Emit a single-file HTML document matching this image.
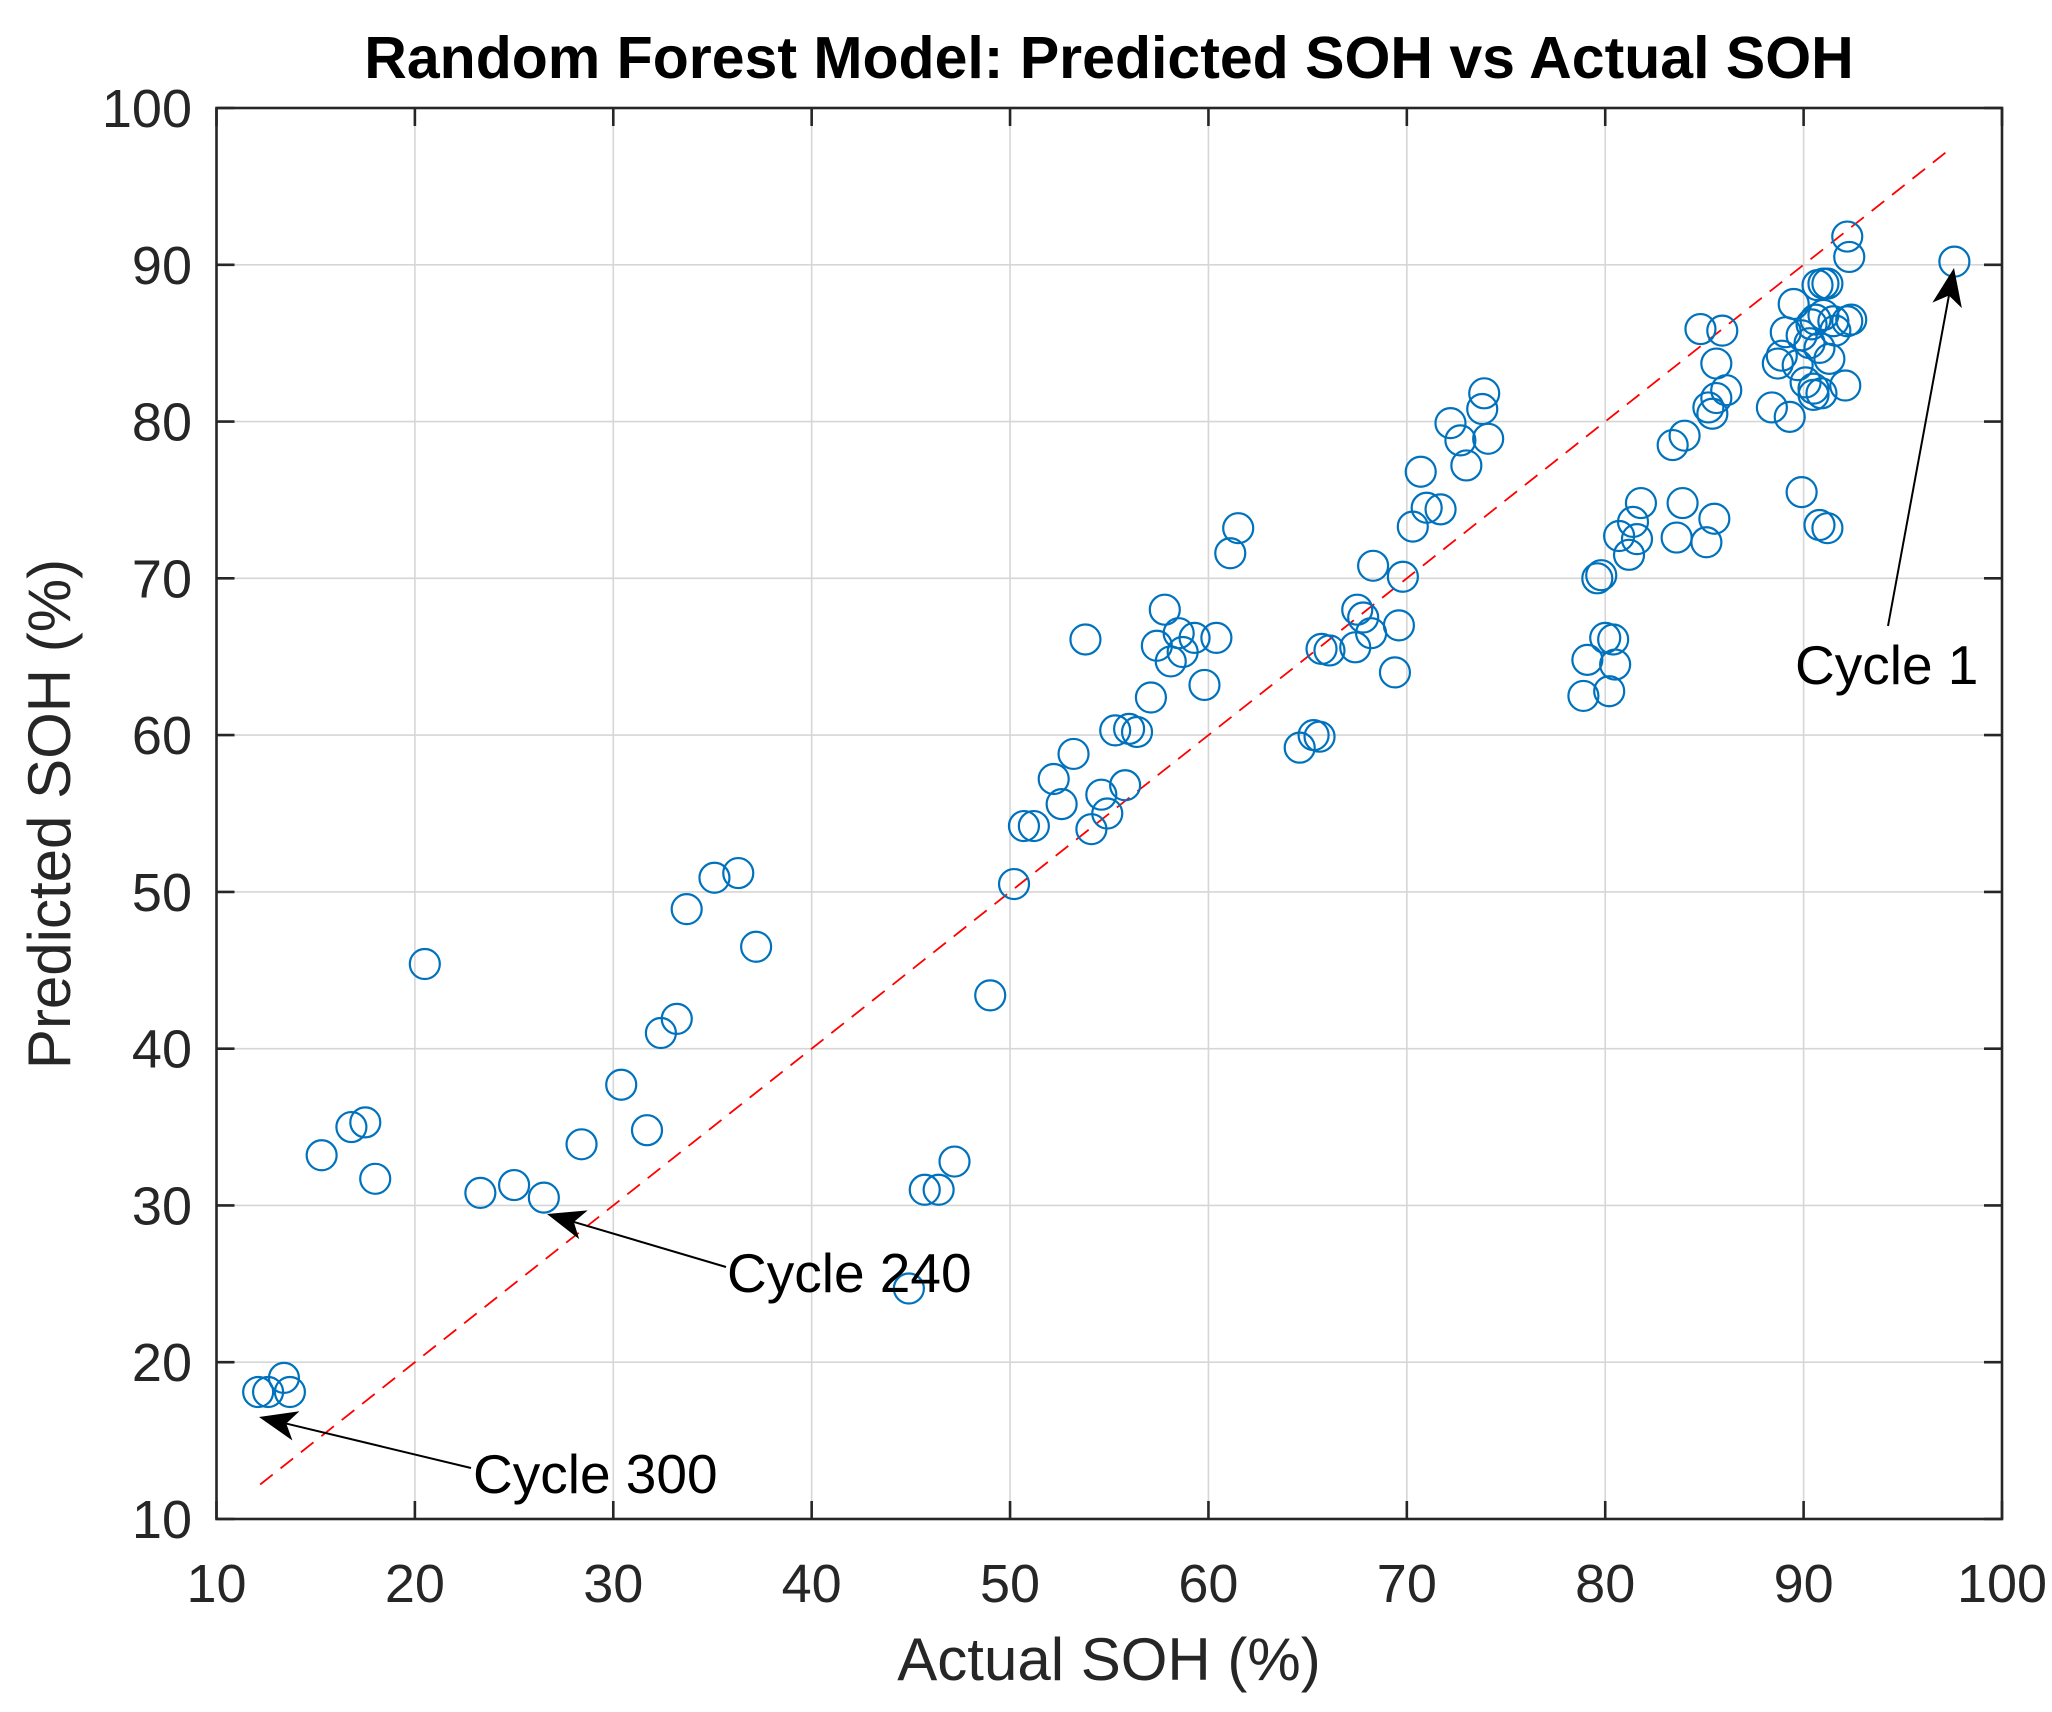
<!DOCTYPE html>
<html><head><meta charset="utf-8"><style>
body{margin:0;background:#fff}
svg{display:block;font-family:"Liberation Sans",Arial,sans-serif}
</style></head><body>
<svg id="chart" width="2052" height="1712" viewBox="0 0 2052 1712" xmlns="http://www.w3.org/2000/svg">
<rect width="2052" height="1712" fill="#fff"/>
<g id="grid"></g>
<g id="ref"></g>
<g id="pts"></g>
<rect x="216.5" y="108" width="1785.5" height="1411" fill="none" stroke="#262626" stroke-width="2.6"/>
<g id="ticks"></g>
<text x="1109" y="78" text-anchor="middle" font-size="59" font-weight="bold" fill="#000">Random Forest Model: Predicted SOH vs Actual SOH</text>
<text x="1109" y="1680" text-anchor="middle" font-size="60" fill="#262626">Actual SOH (%)</text>
<text transform="translate(70,814) rotate(-90)" text-anchor="middle" font-size="60" fill="#262626">Predicted SOH (%)</text>
<g id="ann"></g>
</svg>
<script>
const xTicks=[10,20,30,40,50,60,70,80,90,100];
const yTicks=[10,20,30,40,50,60,70,80,90,100];
const actual=[12.1,12.6,13.4,13.7,15.3,16.8,17.5,18.0,20.5,23.3,25.0,26.5,28.4,30.4,31.7,32.4,33.2,33.7,35.1,36.3,37.2,44.9,45.7,46.4,47.2,49.0,50.2,50.7,51.2,52.2,52.6,53.2,53.8,54.1,54.6,54.9,55.3,55.8,56.0,56.4,57.1,57.4,57.8,58.1,58.5,58.7,59.3,59.8,60.4,61.1,61.5,64.6,65.3,65.6,65.7,66.1,67.4,67.5,67.8,68.3,68.2,69.4,69.6,69.8,70.3,70.7,71.0,71.7,72.2,72.7,73.0,73.8,73.9,74.1,78.9,79.1,79.6,79.8,80.0,80.2,80.4,80.5,80.7,81.2,81.4,81.6,81.8,83.4,83.6,84.0,83.9,84.8,85.1,85.2,85.4,85.5,85.6,85.6,85.9,86.1,88.4,88.7,88.9,89.1,89.3,89.5,89.7,89.9,89.9,90.1,90.3,90.4,90.5,90.6,90.5,90.7,90.8,90.8,90.9,91.0,91.0,91.2,91.2,91.3,91.5,91.6,92.2,92.1,92.2,92.3,92.4,97.6];
const predicted=[18.1,18.1,19.0,18.1,33.2,35.0,35.3,31.7,45.4,30.8,31.3,30.5,33.9,37.7,34.8,41.0,41.9,48.9,50.9,51.2,46.5,24.7,31.0,31.0,32.8,43.4,50.5,54.2,54.2,57.2,55.6,58.8,66.1,54.0,56.2,55.0,60.3,56.8,60.4,60.2,62.4,65.7,68.0,64.7,66.5,65.3,66.2,63.2,66.2,71.6,73.2,59.2,60.0,59.9,65.5,65.4,65.6,68.0,67.5,70.8,66.5,64.0,67.0,70.1,73.3,76.8,74.5,74.4,79.9,78.8,77.2,80.8,81.8,78.9,62.5,64.8,70.0,70.2,66.2,62.8,66.1,64.5,72.7,71.5,73.6,72.5,74.8,78.5,72.6,79.1,74.8,85.9,72.3,80.9,80.5,73.8,83.7,81.5,85.8,82.0,80.9,83.7,84.2,85.7,80.3,87.5,83.6,75.5,85.5,82.5,85.0,86.2,82.1,86.5,81.7,88.7,73.4,84.7,81.8,86.8,88.8,88.8,73.2,84.0,86.4,85.8,91.8,82.3,86.4,90.5,86.5,90.2];
const refLine=[12.2,97.3];
const NS="http://www.w3.org/2000/svg";
const X0=216.5,X1=2002,Y0=1519,Y1=108;
function sx(v){return X0+(v-10)/90*(X1-X0);}
function sy(v){return Y0-(v-10)/90*(Y0-Y1);}
function mk(tag,attrs,parent){const e=document.createElementNS(NS,tag);for(const k in attrs)e.setAttribute(k,attrs[k]);parent.appendChild(e);return e;}
const grid=document.getElementById('grid'),ticks=document.getElementById('ticks');
xTicks.forEach(t=>{
  const x=sx(t);
  if(t>10&&t<100){const g=mk('line',{x1:x,x2:x,y1:Y1,y2:Y0,stroke:'#d6d6d6','stroke-width':1.6},grid);
  
  }
  mk('line',{x1:x,x2:x,y1:Y0,y2:Y0-18,stroke:'#262626','stroke-width':2.6},ticks);
  mk('line',{x1:x,x2:x,y1:Y1,y2:Y1+18,stroke:'#262626','stroke-width':2.6},ticks);
  const tx=mk('text',{x:x,y:1602,'text-anchor':'middle','font-size':54,fill:'#262626'},ticks);
  tx.textContent=t;
  
  
});
yTicks.forEach(t=>{
  const y=sy(t);
  if(t>10&&t<100){const g=mk('line',{x1:X0,x2:X1,y1:y,y2:y,stroke:'#d6d6d6','stroke-width':1.6},grid);
  
  }
  mk('line',{x1:X0,x2:X0+18,y1:y,y2:y,stroke:'#262626','stroke-width':2.6},ticks);
  mk('line',{x1:X1,x2:X1-18,y1:y,y2:y,stroke:'#262626','stroke-width':2.6},ticks);
  const tx=mk('text',{x:192,y:y+19,'text-anchor':'end','font-size':54,fill:'#262626'},ticks);
  tx.textContent=t;
  
  
});
const rl=mk('line',{x1:sx(refLine[0]),y1:sy(refLine[0]),x2:sx(refLine[1]),y2:sy(refLine[1]),stroke:'#ff0000','stroke-width':1.8,'stroke-dasharray':'16,10'},document.getElementById('ref'));


const pts=document.getElementById('pts');
actual.forEach((a,i)=>{
  const c=mk('circle',{cx:sx(a),cy:sy(predicted[i]),r:15,fill:'none',stroke:'#0072bd','stroke-width':2.2},pts);
  
  
});
const ann=document.getElementById('ann');
function arrow(x1,y1,x2,y2,label,tx,ty,name){
  const g=mk('g',{},ann);
  
  
  const dx=x2-x1,dy=y2-y1,L=Math.hypot(dx,dy),ux=dx/L,uy=dy/L,h=38,w=15;
  const bx=x2-ux*h,by=y2-uy*h;
  mk('line',{x1:x1,y1:y1,x2:bx+ux*10,y2:by+uy*10,stroke:'#000','stroke-width':2},g);
  mk('polygon',{points:`${x2},${y2} ${bx-uy*w},${by+ux*w} ${bx+ux*10},${by+uy*10} ${bx+uy*w},${by-ux*w}`,fill:'#000'},g);
  const t=mk('text',{x:tx,y:ty,'font-size':55,fill:'#000'},g);t.textContent=label;
}
arrow(1888,626,1954,268,'Cycle 1',1795,684,'annotation-cycle-1');
arrow(726,1267,547,1214,'Cycle 240',727,1292,'annotation-cycle-240');
arrow(471,1468,259,1417,'Cycle 300',473,1493,'annotation-cycle-300');
</script>
</body></html>
